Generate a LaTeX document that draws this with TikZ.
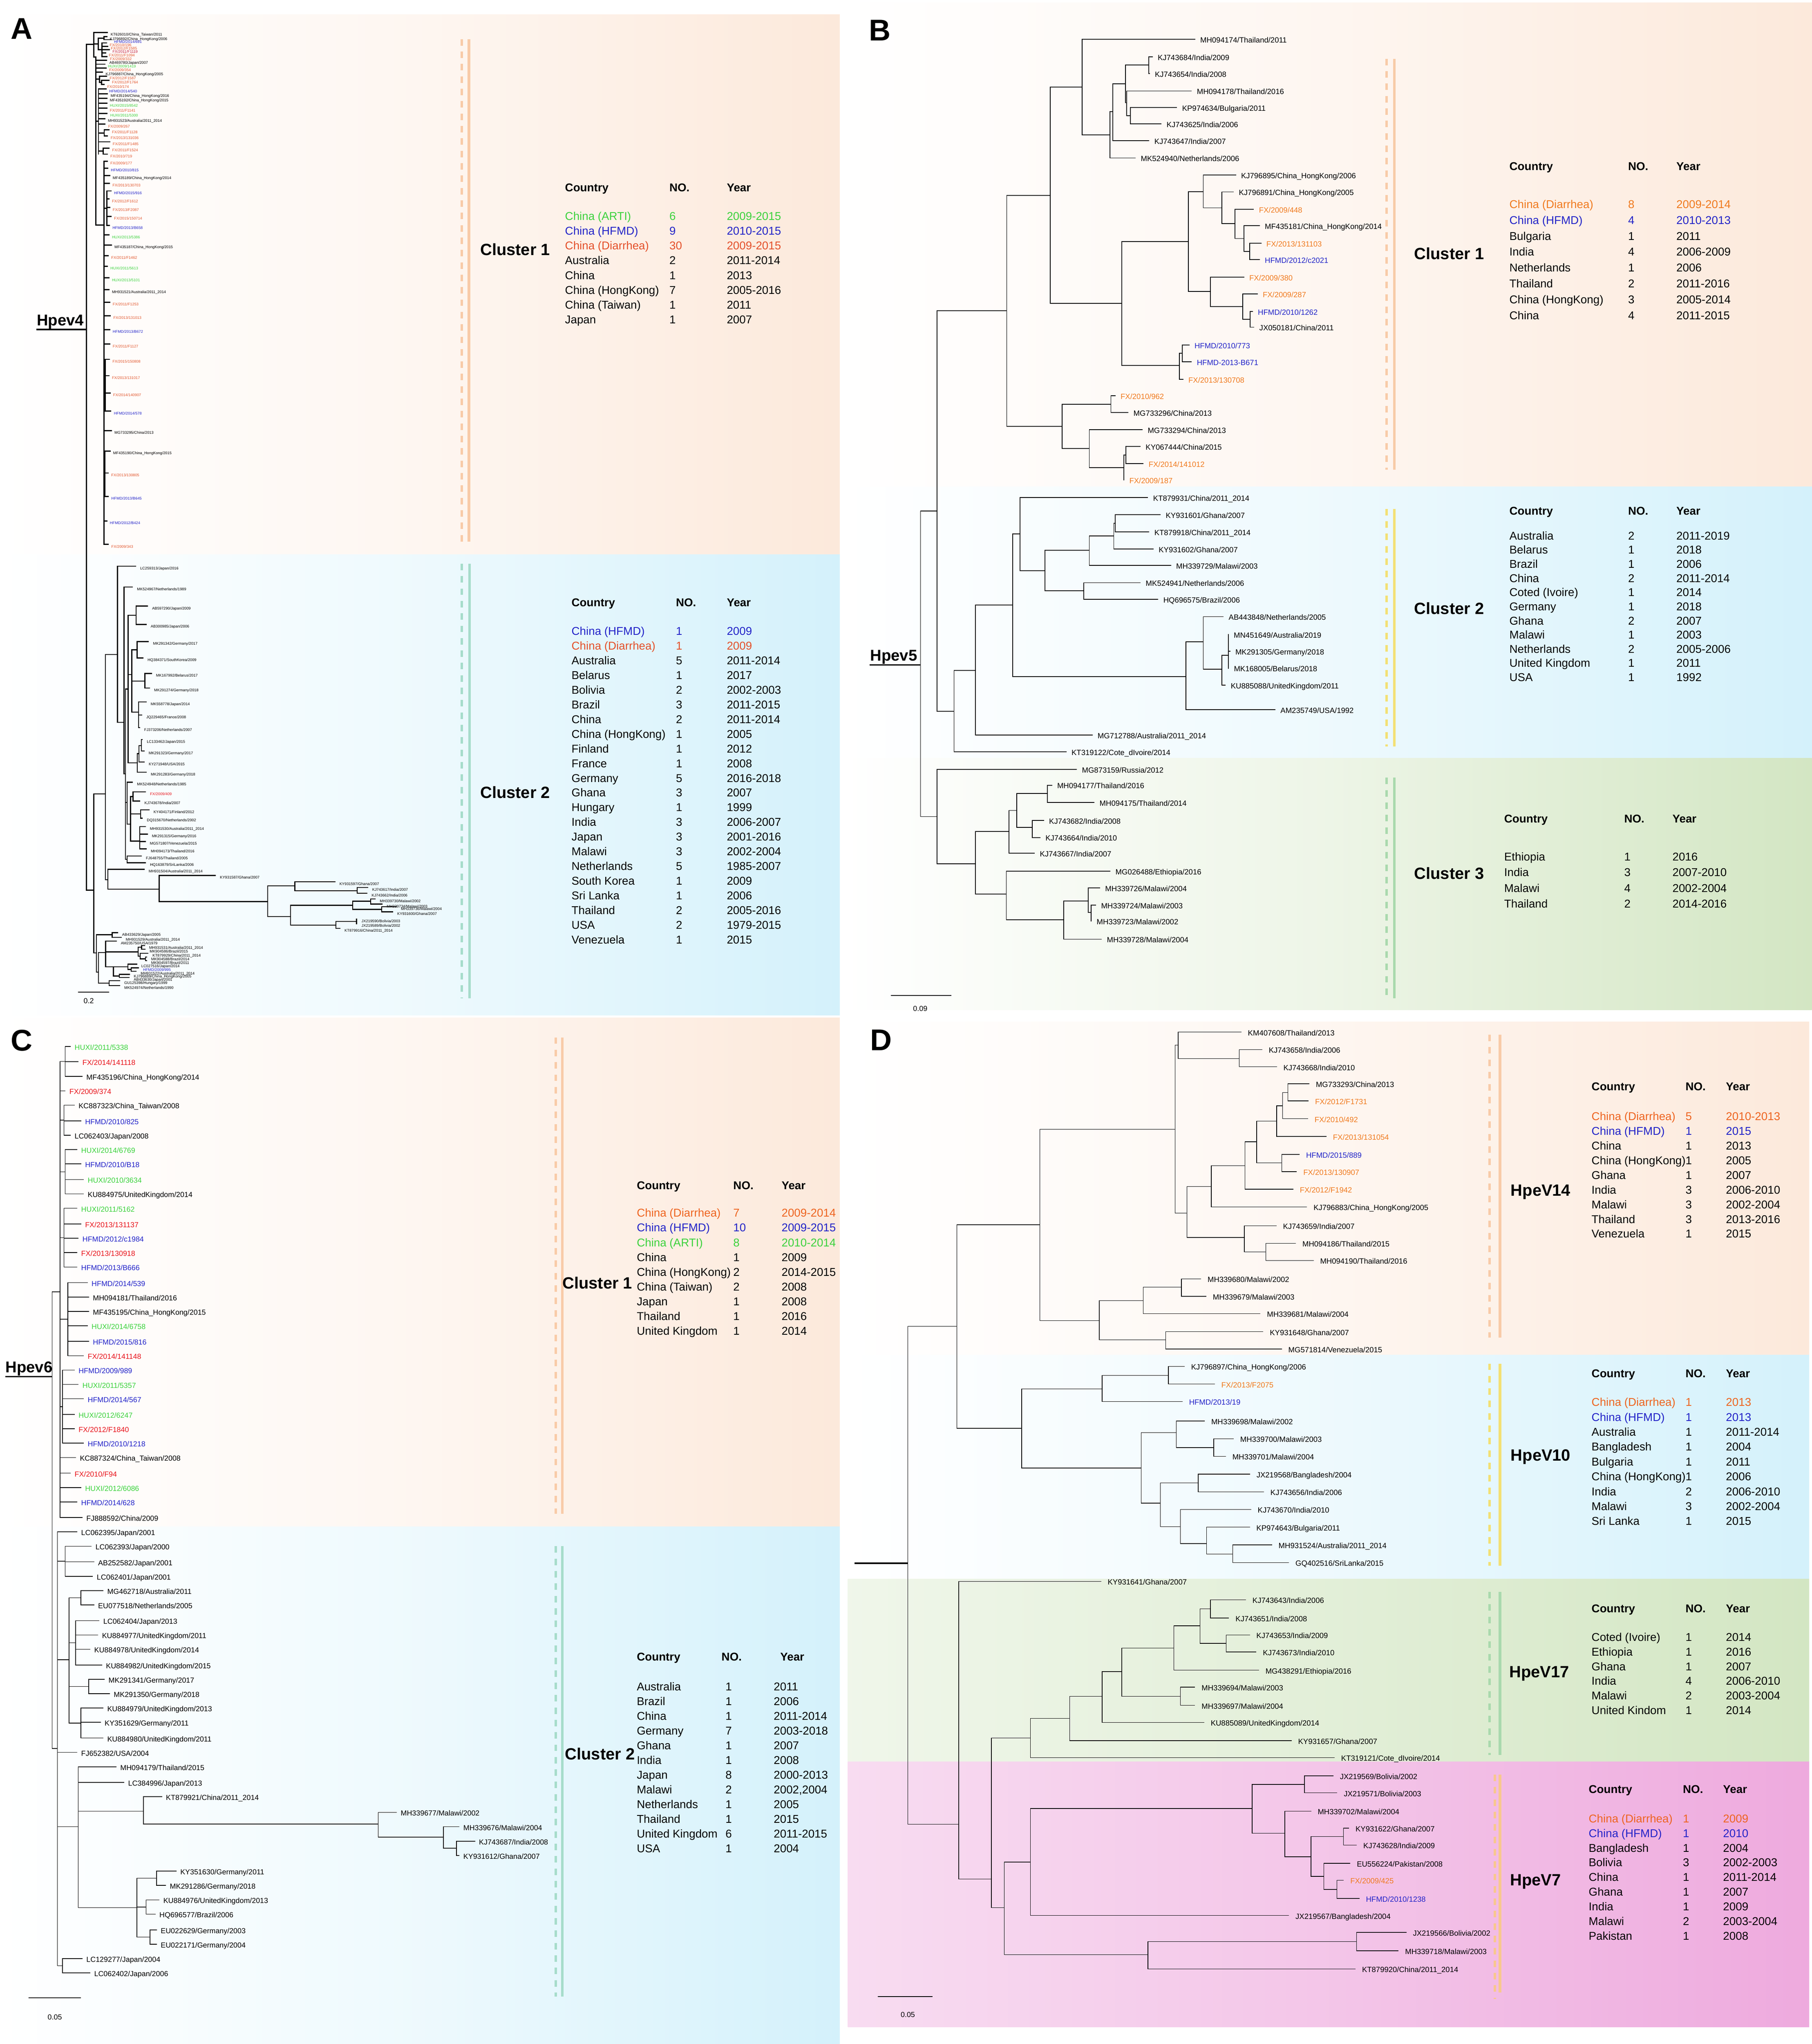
\documentclass[tikz,border=0pt]{standalone}
\usepackage{fontspec}
\setmainfont{Liberation Sans}
\definecolor{fxA}{HTML}{E2552B}
\definecolor{fxAd}{HTML}{C41E3A}
\definecolor{hf}{HTML}{2323C8}
\definecolor{hx}{HTML}{3CD23C}
\definecolor{fxB}{HTML}{F07A1E}
\definecolor{fxC}{HTML}{E8141B}
\definecolor{dA}{HTML}{E4502A}
\definecolor{dD}{HTML}{EE6420}
\definecolor{peach}{HTML}{FCE9DB}
\definecolor{sky}{HTML}{D4F1FB}
\definecolor{leafg}{HTML}{D3E6C3}
\definecolor{pinkR}{HTML}{EEAADE}
\definecolor{pinkL}{HTML}{F8DCF1}
\definecolor{lnPeach}{HTML}{F8CBA8}
\definecolor{lnMint}{HTML}{A6DCCB}
\definecolor{lnYel}{HTML}{F3E074}
\definecolor{lnGrn}{HTML}{A9D9AD}
\definecolor{lnOr}{HTML}{F8C78E}
\tikzset{
 la/.style={font=\fontsize{2.9}{3}\selectfont, anchor=mid west, inner sep=0pt, xshift=2pt},
 la2/.style={font=\fontsize{2.9}{3}\selectfont, anchor=mid west, inner sep=0pt, xshift=3.2pt},
 lb/.style={font=\fontsize{5.8}{6}\selectfont, anchor=mid west, inner sep=0pt, xshift=3.9pt},
 lc/.style={font=\fontsize{5.6}{6}\selectfont, anchor=mid west, inner sep=0pt, xshift=3pt},
 ld/.style={font=\fontsize{5.8}{6}\selectfont, anchor=mid west, inner sep=0pt, xshift=5pt},
 tb/.style={font=\fontsize{8.7}{9}\selectfont, anchor=mid west, inner sep=0pt},
 tbh/.style={font=\fontsize{8.7}{9}\selectfont\bfseries, anchor=mid west, inner sep=0pt},
 clu/.style={font=\fontsize{12.5}{13}\selectfont\bfseries, anchor=mid west, inner sep=0pt},
 panel/.style={font=\fontsize{23}{24}\selectfont\bfseries, anchor=north west, inner sep=0pt},
 hpev/.style={font=\fontsize{12}{13}\selectfont\bfseries, anchor=base west, inner sep=0pt},
 dashln/.style={line width=2pt, dash pattern=on 5pt off 4.5pt},
 solidln/.style={line width=2pt},
 sclab/.style={font=\fontsize{5.6}{6}\selectfont, inner sep=0pt},
}
\newcommand{\nd}[5]{\draw (#1,#3) -- (#2,#3) (#2,#4) -- (#2,#5);}
\newcommand{\lf}[5]{\draw (#1,#3) -- (#2,#3) node[#4] {#5};}
\newcommand{\trow}[8]{\node[tb,text=#5] at (#1,#4) {#6}; \node[tb,text=#5] at (#2,#4) {#7}; \node[tb,text=#5] at (#3,#4) {#8};}
\newcommand{\thdr}[4]{\node[tbh] at (#1,#4) {Country}; \node[tbh] at (#2,#4) {NO.}; \node[tbh] at (#3,#4) {Year};}
\newcommand{\bgbox}[5]{\shade[left color=white, right color=#5, middle color=#5!40!white] (#1,#2) rectangle (#3,#4);}
\newcommand{\clines}[5]{\draw[dashln,draw=#4] (#1,#2) -- (#1,#3); \draw[solidln,draw=#4] (#5,#2) -- (#5,#3);}
\begin{document}
\begin{tikzpicture}[x=1pt,y=-1pt]
\useasboundingbox (0,0) rectangle (1389,1566.5);
\fill[white] (0,0) rectangle (1389,1566.5);
% ---------------- backgrounds
\bgbox{0}{11}{643.8}{425}{peach}
\bgbox{0}{425}{643.8}{778}{sky}
\bgbox{646}{2}{1389}{373}{peach}
\bgbox{646}{373}{1389}{581}{sky}
\bgbox{646}{581}{1389}{774}{leafg}
\bgbox{0}{780}{643.8}{1170}{peach}
\bgbox{0}{1170}{643.8}{1566.5}{sky}
\bgbox{650}{783}{1387}{1038.4}{peach}
\bgbox{650}{1038.4}{1387}{1210}{sky}
\shade[left color=leafg!35!white, right color=leafg, middle color=leafg!65!white] (650,1210) rectangle (1387,1350.3);
\shade[left color=pinkL, right color=pinkR, middle color=pinkL!55!pinkR] (650,1350.3) rectangle (1387,1553.5);
% ---------------- cluster lines
\clines{354}{30}{415}{lnPeach}{359.5}
\clines{354}{432}{765}{lnMint}{360}
\clines{1063}{45}{360}{lnPeach}{1069}
\clines{1063}{390}{572}{lnYel}{1069}
\clines{1063}{596}{765}{lnGrn}{1069}
\clines{426}{795}{1160}{lnPeach}{431}
\clines{426}{1185}{1530}{lnMint}{431}
\clines{1142}{793}{1025}{lnPeach}{1150}
\clines{1142}{1045}{1200}{lnYel}{1150}
\clines{1142}{1220}{1345}{lnGrn}{1150}
\draw[dashln,draw=lnOr] (1146,1360) -- (1146,1532);
\draw[solidln,draw=lnOr] (1150,1360) -- (1150,1527);
% ---------------- panel letters
\node[panel] (pA) at (8,14) {A};
\node[panel] (pB) at (666,15) {B};
\node[panel] (pC) at (8,789) {C};
\node[panel] (pD) at (667,789) {D};
% ================= PANEL A
\node[hpev] (hA) at (28,249.6) {Hpev4};
\draw[line width=1.2pt] (28,252.6) -- (66.3,252.6);
\begin{scope}[line width=0.9pt, line cap=rect]
\draw (66.3,34.1) -- (66.3,682.2);
\nd{66.3}{71.9}{34.1}{24.9}{43.7}
\lf{71.9}{82.4}{24.9}{la}{KT626010/China\_Taiwan/2011}
\nd{71.9}{75.4}{33.7}{29.3}{38.2}
\nd{75.4}{79.7}{29.3}{28.1}{30.4}
\lf{79.7}{81.8}{28.1}{la}{KJ796892/China\_HongKong/2006}
\lf{79.7}{85.0}{30.4}{la,text=hf}{HFMD/2014/691}
\nd{75.4}{78.2}{38.2}{32.9}{43.5}
\lf{78.2}{81.7}{32.9}{la,text=fxA}{FX/2010/196}
\lf{78.2}{82.6}{35.5}{la,text=fxA}{FX/2012/F1585}
\lf{78.2}{83.8}{38.0}{la,text=fxAd}{FX/2011/F1119}
\lf{78.2}{81.1}{40.7}{la,text=fxA}{FX/2011/F1094}
\lf{78.2}{81.9}{43.5}{la,text=fxA}{FX/2009/332}
\draw (71.9,43.7) -- (73.6,43.7) (73.6,43.7) -- (73.6,172.5);
\lf{73.6}{81.5}{46.3}{la}{AB469780/Japan/2007}
\lf{73.6}{80.3}{49.2}{la,text=hx}{HUXI/2009/1419}
\lf{73.6}{81.3}{52.1}{la,text=fxA}{FX/2009/354}
\lf{73.6}{78.6}{55.3}{la}{KJ796887/China\_HongKong/2005}
\nd{73.6}{76.3}{60.5}{58.3}{63.1}
\lf{76.3}{81.7}{58.3}{la,text=fxA}{FX/2012/F1587}
\nd{76.3}{77.8}{63.1}{61.5}{64.8}
\lf{77.8}{83.4}{61.5}{la,text=fxA}{FX/2012/F1764}
\lf{77.8}{79.8}{64.8}{la,text=fxA}{FX/2010/174}
\nd{73.6}{75.5}{93}{68.2}{118.1}
\lf{75.5}{81.3}{68.2}{la,text=hf}{HFMD/2014/540}
\lf{75.5}{82.4}{71.8}{la}{MF435194/China\_HongKong/2016}
\lf{75.5}{81.8}{75.3}{la}{MF435192/China\_HongKong/2015}
\lf{75.5}{81.8}{79.2}{la,text=hx}{HUXI/2015/8542}
\lf{75.5}{81.8}{83.0}{la,text=fxA}{FX/2011/F1141}
\lf{75.5}{82.1}{86.9}{la,text=hx}{HUXI/2011/5300}
\lf{75.5}{80.3}{90.9}{la}{MH931523/Australia/2011\_2014}
\lf{75.5}{80.5}{95.2}{la,text=fxA}{FX/2009/267}
\nd{75.5}{79.9}{101.85}{99.6}{104.1}
\lf{79.9}{83.4}{99.6}{la,text=fxA}{FX/2011/F1128}
\lf{79.9}{82.4}{104.1}{la,text=fxA}{FX/2013/131036}
\lf{75.5}{84.0}{108.7}{la,text=fxA}{FX/2011/F1485}
\nd{75.5}{79.2}{115.8}{113.5}{118.1}
\lf{79.2}{83.6}{113.5}{la,text=fxA}{FX/2011/F1524}
\lf{79.2}{82.2}{118.1}{la,text=fxA}{FX/2010/719}
\draw (73.6,172.5) -- (79.7,172.5) (79.7,123.6) -- (79.7,417.2);
\lf{79.7}{82.2}{123.6}{la,text=fxA}{FX/2009/177}
\lf{79.7}{82.6}{128.9}{la,text=hf}{HFMD/2010/815}
\lf{79.7}{84.0}{134.6}{la}{MF435189/China\_HongKong/2014}
\lf{79.7}{83.8}{140.5}{la,text=fxA}{FX/2013/130703}
\nd{79.7}{81.8}{159.6}{146.3}{172.9}
\lf{81.8}{85.0}{146.3}{la,text=hf}{HFMD/2015/916}
\lf{81.8}{83.4}{152.5}{la,text=fxA}{FX/2012/F1612}
\lf{81.8}{84.0}{159.1}{la,text=fxA}{FX/2013/F2087}
\lf{81.8}{85.1}{165.9}{la,text=fxA}{FX/2015/150714}
\lf{81.8}{83.8}{172.9}{la,text=hf}{HFMD/2013/B658}
\lf{79.7}{83.4}{180.1}{la,text=hx}{HUXI/2013/5386}
\lf{79.7}{85.3}{187.8}{la}{MF435187/China\_HongKong/2015}
\lf{79.7}{82.9}{195.9}{la,text=fxA}{FX/2011/F1462}
\lf{79.7}{82.2}{204.1}{la,text=hx}{HUXI/2011/5613}
\lf{79.7}{83.4}{213.0}{la,text=hx}{HUXI/2013/5101}
\lf{79.7}{83.4}{222.0}{la}{MH931521/Australia/2011\_2014}
\lf{79.7}{84.0}{231.7}{la,text=fxA}{FX/2011/F1253}
\lf{79.7}{84.5}{241.9}{la,text=fxA}{FX/2013/131013}
\lf{79.7}{84.0}{252.6}{la,text=hf}{HFMD/2013/B672}
\lf{79.7}{84.0}{263.7}{la,text=fxA}{FX/2011/F1127}
\nd{79.7}{80.6}{295}{275.4}{315.1}
\lf{80.6}{83.8}{275.4}{la,text=fxA}{FX/2015/150808}
\lf{80.6}{83.4}{287.9}{la,text=fxA}{FX/2013/131017}
\lf{80.6}{84.3}{301.1}{la,text=fxA}{FX/2014/140907}
\lf{80.6}{84.9}{315.1}{la,text=hf}{HFMD/2014/578}
\lf{79.7}{85.3}{330.0}{la}{MG733295/China/2013}
\nd{79.7}{80.5}{363}{345.6}{380.4}
\lf{80.5}{84.3}{345.6}{la}{MF435190/China\_HongKong/2015}
\lf{80.5}{82.9}{362.5}{la,text=fxA}{FX/2013/130805}
\lf{80.5}{83.0}{380.4}{la,text=hf}{HFMD/2013/B645}
\lf{79.7}{81.8}{399.3}{la,text=hf}{HFMD/2012/B424}
\lf{79.7}{83.0}{417.2}{la,text=fxA}{FX/2009/343}
\end{scope}
\begin{scope}[line width=0.75pt, line cap=rect]
\nd{66.3}{71.9}{682.2}{608.4}{730.3}
\nd{71.9}{80.8}{608.4}{501.6}{674.3}
\nd{80.8}{90.1}{501.6}{433.9}{553.5}
\lf{90.1}{103.9}{433.9}{la2}{LC259313/Japan/2016}
\nd{90.1}{95.1}{553.5}{449.9}{593}
\lf{95.1}{101.5}{449.9}{la2}{MK524967/Netherlands/1989}
\nd{95.1}{96.1}{593}{528}{658.6}
\nd{96.1}{98.2}{528}{471.6}{584.7}
\nd{98.2}{104.3}{471.6}{464.5}{478.5}
\lf{104.3}{113.1}{464.5}{la2}{AB597290/Japan/2009}
\lf{104.3}{112.0}{478.5}{la2}{AB300985/Japan/2006}
\nd{98.2}{101.0}{516.9}{498.0}{545.7}
\nd{101.0}{105.1}{498.0}{491.7}{504.2}
\lf{105.1}{113.8}{491.7}{la2}{MK291342/Germany/2017}
\lf{105.1}{109.6}{504.2}{la2}{HQ384371/SouthKorea/2009}
\nd{101.0}{111.1}{522.0}{516.1}{527.2}
\lf{111.1}{116.1}{516.1}{la2}{MK167992/Belarus/2017}
\lf{111.1}{114.6}{527.2}{la2}{MK291274/Germany/2018}
\nd{101.0}{106.2}{545.7}{538.0}{557.7}
\lf{106.2}{112.0}{538.0}{la2}{MK558778/Japan/2014}
\lf{106.2}{108.6}{548.0}{la2}{JQ229465/France/2008}
\lf{106.2}{107.0}{557.7}{la2}{FJ373206/Netherlands/2007}
\nd{98.2}{105.3}{584.7}{577.5}{591.9}
\nd{105.3}{106.5}{577.5}{571.5}{583.9}
\nd{106.5}{108.4}{571.5}{566.7}{575.5}
\lf{108.4}{109.0}{566.7}{la2}{LC133462/Japan/2015}
\lf{108.4}{110.4}{575.5}{la2}{MK291323/Germany/2017}
\lf{106.5}{110.5}{583.9}{la2}{KY271948/USA/2015}
\lf{105.3}{112.1}{591.9}{la2}{MK291283/Germany/2018}
\nd{96.1}{97.5}{615}{599.5}{631.6}
\lf{97.5}{101.5}{599.5}{la2}{MK524948/Netherlands/1985}
\nd{97.5}{100.1}{631.6}{610.4}{644.6}
\nd{100.1}{102.0}{610.4}{606.8}{613.9}
\lf{102.0}{111.5}{606.8}{la2,text=fxC}{FX/2009/409}
\lf{102.0}{107.2}{613.9}{la2}{KJ743678/India/2007}
\nd{100.1}{107.7}{623.8}{620.7}{627.0}
\lf{107.7}{114.2}{620.7}{la2}{KY404171/Finland/2012}
\lf{107.7}{109.0}{627.0}{la2}{DQ315670/Netherlands/2002}
\nd{100.1}{107.2}{644.6}{633.4}{650.6}
\lf{107.2}{111.4}{633.4}{la2}{MH931530/Australia/2011\_2014}
\lf{107.2}{112.9}{639.3}{la2}{MK291315/Germany/2016}
\lf{107.2}{111.4}{644.9}{la2}{MG571807/Venezuela/2015}
\lf{107.2}{112.1}{650.6}{la2}{MH094173/Thailand/2016}
\nd{96.1}{97.5}{658.6}{656.0}{661.2}
\lf{97.5}{108.3}{656.0}{la2}{FJ648755/Thailand/2005}
\lf{97.5}{111.5}{661.2}{la2}{HQ163879/SriLanka/2006}
\nd{80.8}{82.8}{674.3}{666.2}{681.4}
\lf{82.8}{110.4}{666.2}{la2}{MH931504/Australia/2011\_2014}
\nd{82.8}{122.0}{681.4}{670.9}{691.0}
\lf{122.0}{165.1}{670.9}{la2}{KY931587/Ghana/2007}
\nd{122.0}{205.2}{691.0}{679.0}{702.5}
\nd{205.2}{226.0}{679.0}{675.8}{682.6}
\lf{226.0}{256.7}{675.8}{la2}{KY931597/Ghana/2007}
\nd{226.0}{273.8}{682.6}{680.2}{684.6}
\lf{273.8}{281.8}{680.2}{la2}{KJ743617/India/2007}
\lf{273.8}{281.4}{684.6}{la2}{KJ743662/India/2006}
\nd{205.2}{222.8}{702.5}{693.8}{708.9}
\nd{222.8}{270.3}{693.8}{690.7}{696.9}
\nd{270.3}{284.1}{690.7}{688.9}{692.9}
\lf{284.1}{287.6}{688.9}{la2}{MH339730/Malawi/2002}
\lf{284.1}{292.9}{692.9}{la2}{MH339734/Malawi/2003}
\nd{270.3}{292.7}{696.9}{694.9}{698.8}
\lf{292.7}{303.8}{694.9}{la2}{MH339736/Malawi/2004}
\lf{292.7}{301.0}{698.8}{la2}{KY931600/Ghana/2007}
\nd{222.8}{257.5}{708.9}{706.1}{711.5}
\nd{257.5}{273.4}{706.1}{704.4}{707.9}
\lf{273.4}{273.6}{704.4}{la2}{JX219590/Bolivia/2003}
\lf{273.4}{273.6}{707.9}{la2}{JX219589/Bolivia/2002}
\lf{257.5}{260.6}{711.5}{la2}{KT879916/China/2011\_2014}
\draw (71.9,730.3) -- (74.0,730.3) (74.0,716.4) -- (74.0,745);
\nd{74.0}{86.0}{716.4}{714.8}{718.3}
\lf{86.0}{90.1}{714.8}{la2}{AB433629/Japan/2005}
\lf{86.0}{92.9}{718.3}{la2}{MH931529/Australia/2011\_2014}
\nd{74.0}{75.5}{745}{730.0}{753.5}
\nd{75.5}{81.0}{730.0}{721.3}{741.0}
\lf{81.0}{89.1}{721.3}{la2}{AM235750/USA/1979}
\nd{81.0}{105.8}{729.5}{726.0}{732.8}
\nd{105.8}{108.6}{726.0}{724.6}{727.5}
\lf{108.6}{110.7}{724.6}{la2}{MH931531/Australia/2011\_2014}
\lf{108.6}{111.2}{727.5}{la2}{MK904586/Brazil/2015}
\nd{105.8}{107.5}{732.8}{730.6}{734.8}
\lf{107.5}{113.4}{730.6}{la2}{KT879929/China/2011\_2014}
\nd{107.5}{111.5}{734.8}{733.5}{736.2}
\lf{111.5}{112.3}{733.5}{la2}{MK904588/Brazil/2014}
\lf{111.5}{112.3}{736.2}{la2}{MK904597/Brazil/2011}
\nd{81.0}{87.0}{741.0}{741.0}{748.0}
\nd{87.0}{98.0}{741.0}{738.9}{743.0}
\lf{98.0}{104.8}{738.9}{la2}{LC027516/Japan/2014}
\nd{98.0}{100.5}{743.0}{741.7}{744.3}
\lf{100.5}{106.1}{741.7}{la2,text=hf}{HFMD/2009/995}
\lf{100.5}{104.3}{744.3}{la2}{MH931522/Australia/2011\_2014}
\nd{87.0}{91.4}{748.0}{746.7}{749.1}
\lf{91.4}{99.1}{746.7}{la2}{KJ796889/China\_HongKong/2005}
\lf{91.4}{99.0}{749.1}{la2}{AB433630/Japan/2001}
\nd{75.5}{83.6}{753.5}{751.6}{755.4}
\lf{83.6}{91.7}{751.6}{la2}{GU125398/Hungary/1999}
\lf{83.6}{91.7}{755.4}{la2}{MK524974/Netherlands/1990}
\end{scope}
\draw[line width=0.6pt] (59.7,760.4) -- (83.6,760.4);
\node[sclab] (sA) at (68,767) {0.2};
% A tables
\node[clu] (cA1) at (368,193) {Cluster 1};
\thdr{433}{513}{557}{144}
\trow{433}{513}{557}{166}{hx}{China (ARTI)}{6}{2009-2015}
\trow{433}{513}{557}{177.35}{hf}{China (HFMD)}{9}{2010-2015}
\trow{433}{513}{557}{188.7}{dA}{China (Diarrhea)}{30}{2009-2015}
\trow{433}{513}{557}{200.05}{black}{Australia}{2}{2011-2014}
\trow{433}{513}{557}{211.4}{black}{China}{1}{2013}
\trow{433}{513}{557}{222.75}{black}{China (HongKong)}{7}{2005-2016}
\trow{433}{513}{557}{234.1}{black}{China (Taiwan)}{1}{2011}
\trow{433}{513}{557}{245.45}{black}{Japan}{1}{2007}
\node[clu] (cA2) at (368,609) {Cluster 2};
\thdr{438}{518}{557}{462}
\trow{438}{518}{557}{484}{hf}{China (HFMD)}{1}{2009}
\trow{438}{518}{557}{495.27}{dA}{China (Diarrhea)}{1}{2009}
\trow{438}{518}{557}{506.54}{black}{Australia}{5}{2011-2014}
\trow{438}{518}{557}{517.81}{black}{Belarus}{1}{2017}
\trow{438}{518}{557}{529.08}{black}{Bolivia}{2}{2002-2003}
\trow{438}{518}{557}{540.35}{black}{Brazil}{3}{2011-2015}
\trow{438}{518}{557}{551.62}{black}{China}{2}{2011-2014}
\trow{438}{518}{557}{562.89}{black}{China (HongKong)}{1}{2005}
\trow{438}{518}{557}{574.16}{black}{Finland}{1}{2012}
\trow{438}{518}{557}{585.43}{black}{France}{1}{2008}
\trow{438}{518}{557}{596.7}{black}{Germany}{5}{2016-2018}
\trow{438}{518}{557}{607.97}{black}{Ghana}{3}{2007}
\trow{438}{518}{557}{619.24}{black}{Hungary}{1}{1999}
\trow{438}{518}{557}{630.51}{black}{India}{3}{2006-2007}
\trow{438}{518}{557}{641.78}{black}{Japan}{3}{2001-2016}
\trow{438}{518}{557}{653.05}{black}{Malawi}{3}{2002-2004}
\trow{438}{518}{557}{664.32}{black}{Netherlands}{5}{1985-2007}
\trow{438}{518}{557}{675.59}{black}{South Korea}{1}{2009}
\trow{438}{518}{557}{686.86}{black}{Sri Lanka}{1}{2006}
\trow{438}{518}{557}{698.13}{black}{Thailand}{2}{2005-2016}
\trow{438}{518}{557}{709.4}{black}{USA}{2}{1979-2015}
\trow{438}{518}{557}{720.67}{black}{Venezuela}{1}{2015}
% ================= PANEL B
\node[hpev] (hB) at (667,506.5) {Hpev5};
\draw[line width=1.2pt] (666.6,509.6) -- (705.7,509.6);
\begin{scope}[line width=0.6pt, line cap=rect]
\draw (705.7,391.5) -- (705.7,625.8);
\nd{705.7}{718.3}{391.5}{238.1}{545.0}
\nd{718.3}{771.8}{238.1}{149.8}{326.7}
\nd{771.8}{805.1}{149.8}{66.6}{232.5}
\nd{805.1}{829.7}{66.6}{30.1}{103.5}
\lf{829.7}{916.0}{30.1}{lb}{MH094174/Thailand/2011}
\nd{829.7}{850.8}{103.5}{85.6}{121.1}
\nd{850.8}{853.2}{85.6}{64.1}{107.9}
\nd{853.2}{862.9}{64.1}{49.7}{78.8}
\nd{862.9}{880.8}{49.7}{43.6}{56.3}
\lf{880.8}{883.4}{43.6}{lb}{KJ743684/India/2009}
\lf{880.8}{881.2}{56.3}{lb}{KJ743654/India/2008}
\nd{862.9}{863.9}{78.8}{69.7}{88.6}
\lf{863.9}{913.4}{69.7}{lb}{MH094178/Thailand/2016}
\nd{863.9}{866.6}{88.6}{82.5}{95.0}
\lf{866.6}{902.1}{82.5}{lb}{KP974634/Bulgaria/2011}
\lf{866.6}{890.2}{95.0}{lb}{KJ743625/India/2006}
\lf{853.2}{880.8}{107.9}{lb}{KJ743647/India/2007}
\lf{850.8}{870.4}{121.1}{lb}{MK524940/Netherlands/2006}
\nd{805.1}{860.1}{232.5}{185.2}{280.2}
\nd{860.1}{911.2}{185.2}{146.8}{223.4}
\nd{911.2}{922.5}{146.8}{134.1}{159.3}
\lf{922.5}{947.3}{134.1}{lb}{KJ796895/China\_HongKong/2006}
\nd{922.5}{936.8}{159.3}{147.1}{171.5}
\lf{936.8}{945.6}{147.1}{lb}{KJ796891/China\_HongKong/2005}
\nd{936.8}{946.7}{171.5}{160.3}{182.8}
\lf{946.7}{961.0}{160.3}{lb,text=fxB}{FX/2009/448}
\nd{946.7}{953.6}{182.8}{173.0}{192.8}
\lf{953.6}{965.5}{173.0}{lb}{MF435181/China\_HongKong/2014}
\nd{953.6}{958.2}{192.8}{186.5}{198.9}
\lf{958.2}{966.7}{186.5}{lb,text=fxB}{FX/2013/131103}
\lf{958.2}{965.5}{198.9}{lb,text=hf}{HFMD/2012/c2021}
\nd{911.2}{928.1}{223.4}{212.4}{234.9}
\lf{928.1}{953.6}{212.4}{lb,text=fxB}{FX/2009/380}
\nd{928.1}{952.7}{234.9}{225.4}{244.7}
\lf{952.7}{963.9}{225.4}{lb,text=fxB}{FX/2009/287}
\nd{952.7}{958.4}{244.7}{238.6}{250.8}
\lf{958.4}{960.2}{238.6}{lb,text=hf}{HFMD/2010/1262}
\lf{958.4}{961.3}{250.8}{lb}{JX050181/China/2011}
\nd{860.1}{904.3}{280.2}{270.6}{290.7}
\nd{904.3}{906.4}{270.6}{264.3}{277.2}
\lf{906.4}{911.6}{264.3}{lb,text=hf}{HFMD/2010/773}
\lf{906.4}{913.4}{277.2}{lb,text=hf}{HFMD-2013-B671}
\lf{904.3}{906.9}{290.7}{lb,text=fxB}{FX/2013/130708}
\nd{771.8}{814.2}{326.7}{309.8}{343.8}
\nd{814.2}{851.7}{309.8}{303.4}{316.1}
\lf{851.7}{854.9}{303.4}{lb,text=fxB}{FX/2010/962}
\lf{851.7}{864.8}{316.1}{lb}{MG733296/China/2013}
\nd{814.2}{835.1}{343.8}{329.4}{358.5}
\lf{835.1}{875.7}{329.4}{lb}{MG733294/China/2013}
\nd{835.1}{861.5}{358.5}{348.7}{367.8}
\nd{861.5}{863.1}{348.7}{342.1}{355.3}
\lf{863.1}{874.1}{342.1}{lb}{KY067444/China/2015}
\lf{863.1}{876.4}{355.3}{lb,text=fxB}{FX/2014/141012}
\lf{861.5}{861.6}{367.8}{lb,text=fxB}{FX/2009/187}
\nd{718.3}{731.4}{545.0}{513.7}{576.2}
\nd{731.4}{747.7}{513.7}{463.8}{563.3}
\nd{747.7}{776.4}{463.8}{409.3}{518.4}
\nd{776.4}{781.9}{409.3}{381.2}{437.5}
\lf{781.9}{879.9}{381.2}{lb}{KT879931/China/2011\_2014}
\nd{781.9}{801.0}{437.5}{421.7}{452.7}
\nd{801.0}{835.1}{421.7}{410.6}{433.4}
\nd{835.1}{853.9}{410.6}{401.0}{420.7}
\nd{853.9}{855.0}{401.0}{394.4}{407.5}
\lf{855.0}{889.5}{394.4}{lb}{KY931601/Ghana/2007}
\lf{855.0}{880.8}{407.5}{lb}{KT879918/China/2011\_2014}
\lf{853.9}{884.1}{420.7}{lb}{KY931602/Ghana/2007}
\lf{835.1}{897.5}{433.4}{lb}{MH339729/Malawi/2003}
\nd{801.0}{830.8}{452.7}{446.6}{459.4}
\lf{830.8}{874.2}{446.6}{lb}{MK524941/Netherlands/2006}
\lf{830.8}{887.7}{459.4}{lb}{HQ696575/Brazil/2006}
\nd{776.4}{909.1}{518.4}{492.0}{543.9}
\nd{909.1}{922.5}{492.0}{472.6}{512.9}
\lf{922.5}{937.8}{472.6}{lb}{AB443848/Netherlands/2005}
\nd{922.5}{936.7}{512.9}{502.1}{525.0}
\nd{936.7}{941.7}{502.1}{486.3}{512.1}
\lf{941.7}{941.7}{486.3}{lb}{MN451649/Australia/2019}
\lf{941.7}{942.9}{499.2}{lb}{MK291305/Germany/2018}
\lf{941.7}{941.8}{512.1}{lb}{MK168005/Belarus/2018}
\lf{936.7}{939.4}{525.0}{lb}{KU885088/UnitedKingdom/2011}
\lf{909.1}{977.5}{543.9}{lb}{AM235749/USA/1992}
\lf{747.7}{837.3}{563.3}{lb}{MG712788/Australia/2011\_2014}
\lf{731.4}{817.3}{576.2}{lb}{KT319122/Cote\_dIvoire/2014}
\nd{705.7}{718.3}{625.8}{589.7}{662.0}
\lf{718.3}{825.3}{589.7}{lb}{MG873159/Russia/2012}
\nd{718.3}{747.7}{662.0}{637.3}{685.1}
\nd{747.7}{773.6}{637.3}{621.1}{653.9}
\nd{773.6}{779.6}{621.1}{608.2}{634.0}
\nd{779.6}{803.0}{608.2}{601.7}{615.1}
\lf{803.0}{806.3}{601.7}{lb}{MH094177/Thailand/2016}
\lf{803.0}{838.8}{615.1}{lb}{MH094175/Thailand/2014}
\nd{779.6}{791.4}{634.0}{628.9}{641.8}
\lf{791.4}{800.1}{628.9}{lb}{KJ743682/India/2008}
\lf{791.4}{797.3}{641.8}{lb}{KJ743664/India/2010}
\lf{773.6}{793.0}{653.9}{lb}{KJ743667/India/2007}
\nd{747.7}{771.5}{685.1}{667.6}{704.9}
\lf{771.5}{851.0}{667.6}{lb}{MG026488/Ethiopia/2016}
\nd{771.5}{815.5}{704.9}{690.4}{719.8}
\nd{815.5}{834.4}{690.4}{680.5}{699.4}
\lf{834.4}{843.1}{680.5}{lb}{MH339726/Malawi/2004}
\nd{834.4}{836.6}{699.4}{693.6}{706.0}
\lf{836.6}{840.0}{693.6}{lb}{MH339724/Malawi/2003}
\lf{836.6}{836.6}{706.0}{lb}{MH339723/Malawi/2002}
\lf{815.5}{844.4}{719.8}{lb}{MH339728/Malawi/2004}
\end{scope}
\draw[line width=0.6pt] (683,763) -- (729.4,763);
\node[sclab] (sB) at (705.5,773) {0.09};
% B tables
\node[clu] (cB1) at (1084,196) {Cluster 1};
\thdr{1157}{1248}{1285}{128}
\trow{1157}{1248}{1285}{157}{fxB}{China (Diarrhea)}{8}{2009-2014}
\trow{1157}{1248}{1285}{169.15}{hf}{China (HFMD)}{4}{2010-2013}
\trow{1157}{1248}{1285}{181.3}{black}{Bulgaria}{1}{2011}
\trow{1157}{1248}{1285}{193.45}{black}{India}{4}{2006-2009}
\trow{1157}{1248}{1285}{205.6}{black}{Netherlands}{1}{2006}
\trow{1157}{1248}{1285}{217.75}{black}{Thailand}{2}{2011-2016}
\trow{1157}{1248}{1285}{229.9}{black}{China (HongKong)}{3}{2005-2014}
\trow{1157}{1248}{1285}{242.05}{black}{China}{4}{2011-2015}
\node[clu] (cB2) at (1084,468) {Cluster 2};
\thdr{1157}{1248}{1285}{392}
\trow{1157}{1248}{1285}{411}{black}{Australia}{2}{2011-2019}
\trow{1157}{1248}{1285}{421.85}{black}{Belarus}{1}{2018}
\trow{1157}{1248}{1285}{432.7}{black}{Brazil}{1}{2006}
\trow{1157}{1248}{1285}{443.55}{black}{China}{2}{2011-2014}
\trow{1157}{1248}{1285}{454.4}{black}{Coted (Ivoire)}{1}{2014}
\trow{1157}{1248}{1285}{465.25}{black}{Germany}{1}{2018}
\trow{1157}{1248}{1285}{476.1}{black}{Ghana}{2}{2007}
\trow{1157}{1248}{1285}{486.95}{black}{Malawi}{1}{2003}
\trow{1157}{1248}{1285}{497.8}{black}{Netherlands}{2}{2005-2006}
\trow{1157}{1248}{1285}{508.65}{black}{United Kingdom}{1}{2011}
\trow{1157}{1248}{1285}{519.5}{black}{USA}{1}{1992}
\node[clu] (cB3) at (1084,671) {Cluster 3};
\thdr{1153}{1245}{1282}{628}
\trow{1153}{1245}{1282}{657}{black}{Ethiopia}{1}{2016}
\trow{1153}{1245}{1282}{669}{black}{India}{3}{2007-2010}
\trow{1153}{1245}{1282}{681}{black}{Malawi}{4}{2002-2004}
\trow{1153}{1245}{1282}{693}{black}{Thailand}{2}{2014-2016}
% ================= PANEL C
\node[hpev] (hC) at (4,1052) {Hpev6};
\draw[line width=1.2pt] (4,1055) -- (40,1055);
\begin{scope}[line width=0.5pt, line cap=rect]
\draw (40,990) -- (40,1340);
\draw (40,990) -- (46,990) (46,813.5) -- (46,1163);
\nd{46}{50}{813.5}{802}{825}
\lf{50}{54}{802}{lc,text=hx}{HUXI/2011/5338}
\lf{50}{60}{813.7}{lc,text=fxC}{FX/2014/141118}
\lf{50}{63}{825}{lc}{MF435196/China\_HongKong/2014}
\lf{46}{50}{836}{lc,text=fxC}{FX/2009/374}
\nd{46}{49}{858.5}{847}{870}
\lf{49}{57}{847}{lc}{KC887323/China\_Taiwan/2008}
\lf{49}{62}{859}{lc,text=hf}{HFMD/2010/825}
\lf{49}{54}{870}{lc}{LC062403/Japan/2008}
\nd{46}{50}{898}{881}{915}
\lf{50}{59}{881}{lc,text=hx}{HUXI/2014/6769}
\lf{50}{62}{892}{lc,text=hf}{HFMD/2010/B18}
\lf{50}{64}{904}{lc,text=hx}{HUXI/2010/3634}
\lf{50}{64}{915}{lc}{KU884975/UnitedKingdom/2014}
\nd{46}{49}{948.5}{926}{971}
\lf{49}{59}{926}{lc,text=hx}{HUXI/2011/5162}
\lf{49}{62}{938}{lc,text=fxC}{FX/2013/131137}
\lf{49}{60}{949}{lc,text=hf}{HFMD/2012/c1984}
\lf{49}{59}{960}{lc,text=fxC}{FX/2013/130918}
\lf{49}{59}{971}{lc,text=hf}{HFMD/2013/B666}
\nd{46}{52}{1011}{983}{1039}
\lf{52}{67}{983}{lc,text=hf}{HFMD/2014/539}
\lf{52}{68}{994}{lc}{MH094181/Thailand/2016}
\lf{52}{68}{1005}{lc}{MF435195/China\_HongKong/2015}
\lf{52}{67}{1016}{lc,text=hx}{HUXI/2014/6758}
\lf{52}{68}{1028}{lc,text=hf}{HFMD/2015/816}
\lf{52}{64}{1039}{lc,text=fxC}{FX/2014/141148}
\nd{46}{48}{1078}{1050}{1106}
\lf{48}{57}{1050}{lc,text=hf}{HFMD/2009/989}
\lf{48}{60}{1061}{lc,text=hx}{HUXI/2011/5357}
\lf{48}{64}{1072}{lc,text=hf}{HFMD/2014/567}
\lf{48}{57}{1084}{lc,text=hx}{HUXI/2012/6247}
\lf{48}{57}{1095}{lc,text=fxC}{FX/2012/F1840}
\lf{48}{64}{1106}{lc,text=hf}{HFMD/2010/1218}
\lf{46}{58}{1117}{lc}{KC887324/China\_Taiwan/2008}
\lf{46}{54}{1129}{lc,text=fxC}{FX/2010/F94}
\lf{46}{62}{1140}{lc,text=hx}{HUXI/2012/6086}
\lf{46}{59}{1151}{lc,text=hf}{HFMD/2014/628}
\lf{46}{63}{1163}{lc}{FJ888592/China/2009}
\draw (40,1340) -- (44,1340) (44,1174) -- (44,1506.5);
\lf{44}{59}{1174}{lc}{LC062395/Japan/2001}
\nd{44}{50}{1196.5}{1185}{1208}
\lf{50}{70}{1185}{lc}{LC062393/Japan/2000}
\lf{50}{72}{1197}{lc}{AB252582/Japan/2001}
\lf{50}{71}{1208}{lc}{LC062401/Japan/2001}
\nd{44}{53}{1272}{1224.5}{1320.5}
\nd{53}{62}{1224.5}{1219}{1230}
\lf{62}{79}{1219}{lc}{MG462718/Australia/2011}
\lf{62}{72}{1230}{lc}{EU077518/Netherlands/2005}
\nd{53}{58}{1259}{1242}{1276}
\lf{58}{76}{1242}{lc}{LC062404/Japan/2013}
\lf{58}{75}{1253}{lc}{KU884977/UnitedKingdom/2011}
\lf{58}{69}{1264}{lc}{KU884978/UnitedKingdom/2014}
\lf{58}{78}{1276}{lc}{KU884982/UnitedKingdom/2015}
\nd{53}{68}{1292.5}{1287}{1298}
\lf{68}{80}{1287}{lc}{MK291341/Germany/2017}
\lf{68}{84}{1298}{lc}{MK291350/Germany/2018}
\nd{53}{62}{1320.5}{1309}{1332}
\lf{62}{79}{1309}{lc}{KU884979/UnitedKingdom/2013}
\lf{62}{77}{1320}{lc}{KY351629/Germany/2011}
\lf{62}{79}{1332}{lc}{KU884980/UnitedKingdom/2011}
\lf{44}{59}{1343}{lc}{FJ652382/USA/2004}
\nd{44}{60}{1400}{1354}{1462}
\lf{60}{89}{1354}{lc}{MH094179/Thailand/2015}
\lf{60}{95}{1366}{lc}{LC384996/Japan/2013}
\nd{60}{110}{1388}{1377}{1398}
\lf{110}{124}{1377}{lc}{KT879921/China/2011\_2014}
\nd{110}{290}{1398}{1389}{1408}
\lf{290}{304}{1389}{lc}{MH339677/Malawi/2002}
\nd{290}{340}{1408}{1400}{1416.5}
\lf{340}{352}{1400}{lc}{MH339676/Malawi/2004}
\nd{340}{350}{1416.5}{1411}{1422}
\lf{350}{364}{1411}{lc}{KJ743687/India/2008}
\lf{350}{352}{1422}{lc}{KY931612/Ghana/2007}
\nd{60}{105}{1462}{1439.5}{1484.5}
\nd{105}{120}{1439.5}{1434}{1445}
\lf{120}{135}{1434}{lc}{KY351630/Germany/2011}
\lf{120}{127}{1445}{lc}{MK291286/Germany/2018}
\nd{105}{112}{1461.5}{1456}{1467}
\lf{112}{122}{1456}{lc}{KU884976/UnitedKingdom/2013}
\lf{112}{119}{1467}{lc}{HQ696577/Brazil/2006}
\nd{105}{115}{1484.5}{1479}{1490}
\lf{115}{120}{1479}{lc}{EU022629/Germany/2003}
\lf{115}{120}{1490}{lc}{EU022171/Germany/2004}
\nd{44}{48}{1506.5}{1501}{1512}
\lf{48}{63}{1501}{lc}{LC129277/Japan/2004}
\lf{48}{69}{1512}{lc}{LC062402/Japan/2006}
\end{scope}
\draw[line width=0.6pt] (22,1531) -- (62,1531);
\node[sclab] (sC) at (42,1546) {0.05};
% C tables
\node[clu] (cC1) at (431,985) {Cluster 1};
\thdr{488}{562}{599}{909}
\trow{488}{562}{599}{930}{dD}{China (Diarrhea)}{7}{2009-2014}
\trow{488}{562}{599}{941.3}{hf}{China (HFMD)}{10}{2009-2015}
\trow{488}{562}{599}{952.6}{hx}{China (ARTI)}{8}{2010-2014}
\trow{488}{562}{599}{963.9}{black}{China}{1}{2009}
\trow{488}{562}{599}{975.2}{black}{China (HongKong)}{2}{2014-2015}
\trow{488}{562}{599}{986.5}{black}{China (Taiwan)}{2}{2008}
\trow{488}{562}{599}{997.8}{black}{Japan}{1}{2008}
\trow{488}{562}{599}{1009.1}{black}{Thailand}{1}{2016}
\trow{488}{562}{599}{1020.4}{black}{United Kingdom}{1}{2014}
\node[clu] (cC2) at (433,1346) {Cluster 2};
\thdr{488}{553}{598}{1270}
\trow{488}{556}{593}{1293}{black}{Australia}{1}{2011}
\trow{488}{556}{593}{1304.27}{black}{Brazil}{1}{2006}
\trow{488}{556}{593}{1315.54}{black}{China}{1}{2011-2014}
\trow{488}{556}{593}{1326.81}{black}{Germany}{7}{2003-2018}
\trow{488}{556}{593}{1338.08}{black}{Ghana}{1}{2007}
\trow{488}{556}{593}{1349.35}{black}{India}{1}{2008}
\trow{488}{556}{593}{1360.62}{black}{Japan}{8}{2000-2013}
\trow{488}{556}{593}{1371.89}{black}{Malawi}{2}{2002,2004}
\trow{488}{556}{593}{1383.16}{black}{Netherlands}{1}{2005}
\trow{488}{556}{593}{1394.43}{black}{Thailand}{1}{2015}
\trow{488}{556}{593}{1405.7}{black}{United Kingdom}{6}{2011-2015}
\trow{488}{556}{593}{1416.97}{black}{USA}{1}{2004}
% ================= PANEL D
\draw[line width=1.3pt] (655,1198) -- (695.9,1198);
\begin{scope}[line width=0.45pt, line cap=rect]
\draw (695.9,1016.5) -- (695.9,1398);
\nd{695.9}{733.5}{1016.5}{938.7}{1094.7}
\nd{733.5}{797.1}{938.7}{865.4}{1012.1}
\nd{797.1}{900.9}{865.4}{800.9}{929.7}
\nd{900.9}{903.3}{800.9}{791.0}{811.2}
\lf{903.3}{951.5}{791.0}{ld}{KM407608/Thailand/2013}
\nd{903.3}{950.1}{811.2}{804.3}{817.6}
\lf{950.1}{967.5}{804.3}{ld}{KJ743658/India/2006}
\lf{950.1}{978.7}{817.6}{ld}{KJ743668/India/2010}
\nd{900.9}{909.9}{929.7}{909.4}{948.4}
\nd{909.9}{928.6}{909.4}{893.3}{925.0}
\nd{928.6}{954.5}{893.3}{875.0}{911.4}
\nd{954.5}{963.4}{875.0}{859.3}{891.2}
\nd{963.4}{978.7}{859.3}{847.4}{871.0}
\nd{978.7}{983.2}{847.4}{837.3}{857.4}
\nd{983.2}{987.3}{837.3}{830.6}{843.7}
\lf{987.3}{1003.6}{830.6}{ld}{MG733293/China/2013}
\lf{987.3}{1003.0}{843.7}{ld,text=fxB}{FX/2012/F1731}
\lf{983.2}{1002.6}{857.4}{ld,text=fxB}{FX/2010/492}
\lf{978.7}{1016.7}{871.0}{ld,text=fxB}{FX/2013/131054}
\nd{963.4}{982.7}{891.2}{884.8}{897.9}
\lf{982.7}{996.1}{884.8}{ld,text=hf}{HFMD/2015/889}
\lf{982.7}{994.0}{897.9}{ld,text=fxB}{FX/2013/130907}
\lf{954.5}{991.3}{911.4}{ld,text=fxB}{FX/2012/F1942}
\lf{928.6}{1001.8}{925.0}{ld}{KJ796883/China\_HongKong/2005}
\nd{909.9}{954.0}{948.4}{939.4}{959.4}
\lf{954.0}{978.4}{939.4}{ld}{KJ743659/India/2007}
\nd{954.0}{970.5}{959.4}{952.9}{966.0}
\lf{970.5}{993.3}{952.9}{ld}{MH094186/Thailand/2015}
\lf{970.5}{1006.9}{966.0}{ld}{MH094190/Thailand/2016}
\nd{797.1}{842.7}{1012.1}{996.7}{1026.9}
\nd{842.7}{876.5}{996.7}{986.5}{1006.7}
\nd{876.5}{905.8}{986.5}{980.1}{993.4}
\lf{905.8}{920.6}{980.1}{ld}{MH339680/Malawi/2002}
\lf{905.8}{924.6}{993.4}{ld}{MH339679/Malawi/2003}
\lf{876.5}{966.1}{1006.7}{ld}{MH339681/Malawi/2004}
\nd{842.7}{893.6}{1026.9}{1020.6}{1033.9}
\lf{893.6}{968.3}{1020.6}{ld}{KY931648/Ghana/2007}
\lf{893.6}{982.5}{1033.9}{ld}{MG571814/Venezuela/2015}
\nd{733.5}{783.2}{1094.7}{1064.4}{1125.1}
\nd{783.2}{844.9}{1064.4}{1054.1}{1074.1}
\nd{844.9}{895.7}{1054.1}{1047.2}{1060.7}
\lf{895.7}{908.0}{1047.2}{ld}{KJ796897/China\_HongKong/2006}
\lf{895.7}{931.1}{1060.7}{ld,text=fxB}{FX/2013/F2075}
\lf{844.9}{906.4}{1074.1}{ld,text=hf}{HFMD/2013/19}
\nd{783.2}{874.9}{1125.1}{1098.0}{1152}
\nd{874.9}{901.8}{1098.0}{1089.0}{1109.4}
\lf{901.8}{923.4}{1089.0}{ld}{MH339698/Malawi/2002}
\nd{901.8}{930.5}{1109.4}{1102.6}{1116.1}
\lf{930.5}{945.6}{1102.6}{ld}{MH339700/Malawi/2003}
\lf{930.5}{939.6}{1116.1}{ld}{MH339701/Malawi/2004}
\nd{874.9}{889.6}{1152}{1136.5}{1170}
\nd{889.6}{918.6}{1136.5}{1129.7}{1143.3}
\lf{918.6}{958.1}{1129.7}{ld}{JX219568/Bangladesh/2004}
\lf{918.6}{968.8}{1143.3}{ld}{KJ743656/India/2006}
\nd{889.6}{905}{1170}{1156.8}{1183}
\lf{905}{959}{1156.8}{ld}{KJ743670/India/2010}
\nd{905}{925}{1183}{1170.4}{1191}
\lf{925}{958}{1170.4}{ld}{KP974643/Bulgaria/2011}
\nd{925}{945}{1191}{1184.0}{1197.5}
\lf{945}{975}{1184.0}{ld}{MH931524/Australia/2011\_2014}
\lf{945}{988}{1197.5}{ld}{GQ402516/SriLanka/2015}
\nd{695.9}{735}{1398}{1212}{1440}
\lf{735}{844}{1212}{ld}{KY931641/Ghana/2007}
\nd{735}{760}{1440}{1332}{1462}
\nd{760}{790}{1332}{1317}{1347}
\nd{790}{820}{1317}{1300}{1334}
\nd{820}{845}{1300}{1281}{1320}
\nd{845}{860}{1281}{1263}{1300}
\nd{860}{900}{1263}{1246}{1280}
\nd{900}{920}{1246}{1233}{1259.5}
\nd{920}{928}{1233}{1226}{1240}
\lf{928}{955}{1226}{ld}{KJ743643/India/2006}
\lf{928}{942}{1240}{ld}{KJ743651/India/2008}
\nd{920}{940}{1259.5}{1253}{1266}
\lf{940}{958}{1253}{ld}{KJ743653/India/2009}
\lf{940}{963}{1266}{ld}{KJ743673/India/2010}
\lf{900}{965}{1280}{ld}{MG438291/Ethiopia/2016}
\nd{860}{905}{1300}{1293}{1307}
\lf{905}{916}{1293}{ld}{MH339694/Malawi/2003}
\lf{905}{916}{1307}{ld}{MH339697/Malawi/2004}
\lf{845}{923}{1320}{ld}{KU885089/UnitedKingdom/2014}
\lf{820}{990}{1334}{ld}{KY931657/Ghana/2007}
\lf{790}{1023}{1347}{ld}{KT319121/Cote\_dIvoire/2014}
\nd{760}{770}{1462}{1427}{1498}
\nd{770}{790}{1427}{1386}{1468}
\nd{790}{960}{1386}{1367.5}{1405}
\nd{960}{1000}{1367.5}{1361}{1374}
\lf{1000}{1022}{1361}{ld}{JX219569/Bolivia/2002}
\lf{1000}{1025}{1374}{ld}{JX219571/Bolivia/2003}
\nd{960}{985}{1405}{1388}{1423}
\lf{985}{1005}{1388}{ld}{MH339702/Malawi/2004}
\nd{985}{1005}{1423}{1407.5}{1438}
\nd{1005}{1030}{1407.5}{1401}{1414}
\lf{1030}{1034}{1401}{ld}{KY931622/Ghana/2007}
\lf{1030}{1040}{1414}{ld}{KJ743628/India/2009}
\nd{1005}{1015}{1438}{1428}{1448}
\lf{1015}{1035}{1428}{ld}{EU556224/Pakistan/2008}
\nd{1015}{1025}{1448}{1441}{1455}
\lf{1025}{1030}{1441}{ld,text=fxB}{FX/2009/425}
\lf{1025}{1042}{1455}{ld,text=hf}{HFMD/2010/1238}
\lf{790}{988}{1468}{ld}{JX219567/Bangladesh/2004}
\nd{770}{880}{1498}{1488}{1509}
\nd{880}{1040}{1488}{1481}{1495}
\lf{1040}{1078}{1481}{ld}{JX219566/Bolivia/2002}
\lf{1040}{1072}{1495}{ld}{MH339718/Malawi/2003}
\lf{880}{1039}{1509}{ld}{KT879920/China/2011\_2014}
\end{scope}
\draw[line width=0.6pt] (673,1530) -- (715,1530);
\node[sclab] (sD) at (696,1544) {0.05};
% D tables
\node[clu] (cD14) at (1158,914) {HpeV14};
\thdr{1220}{1292}{1323}{833}
\trow{1220}{1292}{1323}{856}{dD}{China (Diarrhea)}{5}{2010-2013}
\trow{1220}{1292}{1323}{867.25}{hf}{China (HFMD)}{1}{2015}
\trow{1220}{1292}{1323}{878.5}{black}{China}{1}{2013}
\trow{1220}{1292}{1323}{889.75}{black}{China (HongKong)}{1}{2005}
\trow{1220}{1292}{1323}{901}{black}{Ghana}{1}{2007}
\trow{1220}{1292}{1323}{912.25}{black}{India}{3}{2006-2010}
\trow{1220}{1292}{1323}{923.5}{black}{Malawi}{3}{2002-2004}
\trow{1220}{1292}{1323}{934.75}{black}{Thailand}{3}{2013-2016}
\trow{1220}{1292}{1323}{946}{black}{Venezuela}{1}{2015}
\node[clu] (cD10) at (1158,1117) {HpeV10};
\thdr{1220}{1292}{1323}{1053}
\trow{1220}{1292}{1323}{1075}{dD}{China (Diarrhea)}{1}{2013}
\trow{1220}{1292}{1323}{1086.4}{hf}{China (HFMD)}{1}{2013}
\trow{1220}{1292}{1323}{1097.8}{black}{Australia}{1}{2011-2014}
\trow{1220}{1292}{1323}{1109.2}{black}{Bangladesh}{1}{2004}
\trow{1220}{1292}{1323}{1120.6}{black}{Bulgaria}{1}{2011}
\trow{1220}{1292}{1323}{1132}{black}{China (HongKong)}{1}{2006}
\trow{1220}{1292}{1323}{1143.4}{black}{India}{2}{2006-2010}
\trow{1220}{1292}{1323}{1154.8}{black}{Malawi}{3}{2002-2004}
\trow{1220}{1292}{1323}{1166.2}{black}{Sri Lanka}{1}{2015}
\node[clu] (cD17) at (1157,1283) {HpeV17};
\thdr{1220}{1292}{1323}{1233}
\trow{1220}{1292}{1323}{1255}{black}{Coted (Ivoire)}{1}{2014}
\trow{1220}{1292}{1323}{1266.25}{black}{Ethiopia}{1}{2016}
\trow{1220}{1292}{1323}{1277.5}{black}{Ghana}{1}{2007}
\trow{1220}{1292}{1323}{1288.75}{black}{India}{4}{2006-2010}
\trow{1220}{1292}{1323}{1300}{black}{Malawi}{2}{2003-2004}
\trow{1220}{1292}{1323}{1311.25}{black}{United Kindom}{1}{2014}
\node[clu] (cD7) at (1157.5,1442.5) {HpeV7};
\thdr{1217.8}{1290}{1320.8}{1371.7}
\trow{1217.8}{1290}{1320.8}{1394.1}{dD}{China (Diarrhea)}{1}{2009}
\trow{1217.8}{1290}{1320.8}{1405.35}{hf}{China (HFMD)}{1}{2010}
\trow{1217.8}{1290}{1320.8}{1416.6}{black}{Bangladesh}{1}{2004}
\trow{1217.8}{1290}{1320.8}{1427.85}{black}{Bolivia}{3}{2002-2003}
\trow{1217.8}{1290}{1320.8}{1439.1}{black}{China}{1}{2011-2014}
\trow{1217.8}{1290}{1320.8}{1450.35}{black}{Ghana}{1}{2007}
\trow{1217.8}{1290}{1320.8}{1461.6}{black}{India}{1}{2009}
\trow{1217.8}{1290}{1320.8}{1472.85}{black}{Malawi}{2}{2003-2004}
\trow{1217.8}{1290}{1320.8}{1484.1}{black}{Pakistan}{1}{2008}
\end{tikzpicture}
\end{document}
